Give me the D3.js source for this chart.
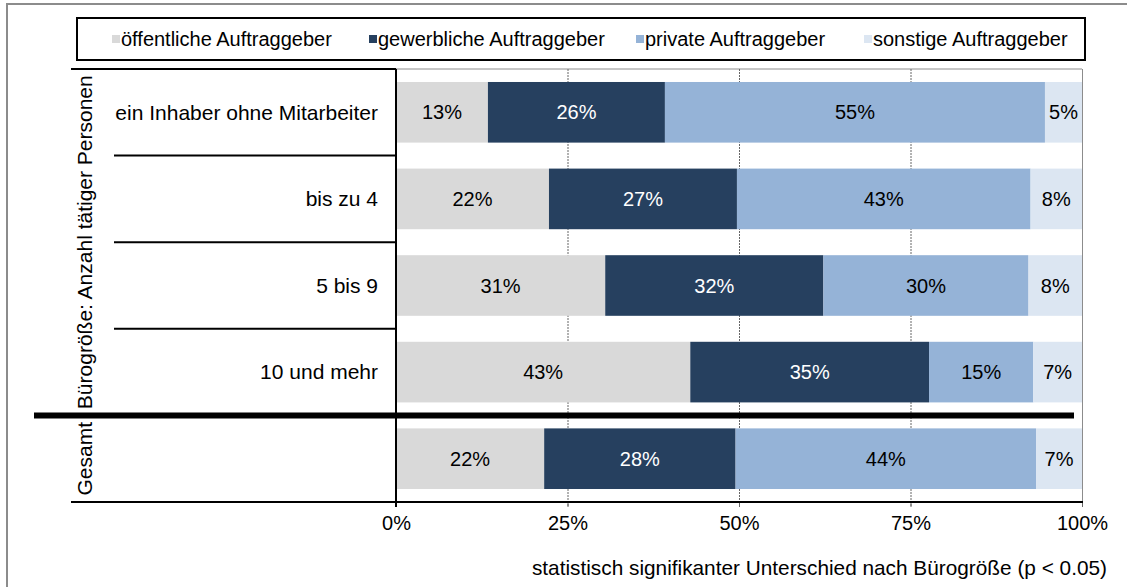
<!DOCTYPE html>
<html>
<head>
<meta charset="utf-8">
<script src="https://cdn.jsdelivr.net/npm/d3@7"></script>
<style>
  body { margin: 0; background: #fff; }
  text { font-family: Arial, "Liberation Sans", sans-serif; fill: #000; }
</style>
</head>
<body>
<svg id="chart" width="1127" height="587"></svg>
<script>
// data
var categories = ["ein Inhaber ohne Mitarbeiter", "bis zu 4", "5 bis 9", "10 und mehr", ""];
var groups = [
  { name: "Bürogröße: Anzahl tätiger Personen", from: 0, to: 4 },
  { name: "Gesamt", from: 4, to: 5 }
];
var seriesNames = ["öffentliche Auftraggeber", "gewerbliche Auftraggeber", "private Auftraggeber", "sonstige Auftraggeber"];
var oeffentlich = [13.4, 22.3, 30.5, 42.9, 21.6];
var gewerblich  = [25.8, 27.4, 31.8, 34.8, 27.9];
var privat      = [55.4, 42.8, 29.9, 15.2, 43.8];
var sonstige    = [5.4, 7.5, 7.8, 7.1, 6.7];
var xTicks = [0, 25, 50, 75, 100];
var note = "statistisch signifikanter Unterschied nach Bürogröße (p < 0.05)";

var colors = ["#d9d9d9", "#26405f", "#95b3d7", "#dce6f2"];
var labelColors = ["#000", "#fff", "#000", "#000"];

var svg = d3.select("#chart"),
    pLeft = 396, pRight = 1082, pTop = 69, pBottom = 502;

// outer frame
svg.append("rect")
    .attr("x", 7).attr("y", 4)
    .attr("width", 1300).attr("height", 800)
    .attr("fill", "none")
    .attr("stroke", "#8c8c8c")
    .attr("stroke-width", 2);

var rows = categories.map(function(c, i) {
  var vals = [oeffentlich[i], gewerblich[i], privat[i], sonstige[i]];
  var acc = 0;
  return vals.map(function(v, k) {
    var seg = { row: i, key: k, x0: acc, x1: acc + v, value: v };
    acc += v;
    return seg;
  });
});

var x = d3.scaleLinear().domain([0, 100]).range([pLeft, pRight]);
var y = d3.scaleBand()
    .domain(d3.range(categories.length))
    .range([pTop, pBottom])
    .paddingInner(0.3)
    .paddingOuter(0.15);
var step = y.step();

// plot border top + right, dashed grid
svg.append("line")
    .attr("x1", pLeft).attr("x2", pRight).attr("y1", pTop).attr("y2", pTop)
    .attr("stroke", "#8c8c8c").attr("stroke-width", 1);
svg.selectAll(".grid")
    .data(xTicks.filter(function(d) { return d > 0; }))
    .enter().append("line")
    .attr("class", "grid")
    .attr("x1", function(d) { return x(d) + 0.5; })
    .attr("x2", function(d) { return x(d) + 0.5; })
    .attr("y1", pTop).attr("y2", pBottom + 5)
    .attr("stroke", function(d) { return d === 100 ? "#8c8c8c" : "#666"; })
    .attr("stroke-width", 1)
    .attr("stroke-dasharray", function(d) { return d === 100 ? null : "2,1"; });

// bars
var rowG = svg.selectAll(".row")
    .data(rows)
    .enter().append("g")
    .attr("class", "row");

rowG.selectAll("rect")
    .data(function(d) { return d; })
    .enter().append("rect")
    .attr("x", function(d) { return x(d.x0); })
    .attr("width", function(d) { return x(d.x1) - x(d.x0); })
    .attr("y", function(d) { return y(d.row); })
    .attr("height", y.bandwidth())
    .attr("fill", function(d) { return colors[d.key]; });

rowG.selectAll("text")
    .data(function(d) { return d; })
    .enter().append("text")
    .attr("x", function(d) { return (x(d.x0) + x(d.x1)) / 2; })
    .attr("y", function(d) { return y(d.row) + y.bandwidth() / 2; })
    .attr("dy", "0.35em")
    .attr("text-anchor", "middle")
    .style("font-size", "20px")
    .style("fill", function(d) { return labelColors[d.key]; })
    .text(function(d) { return Math.round(d.value) + "%"; });

// x axis
var xAxis = d3.axisBottom(x)
    .tickValues(xTicks)
    .tickFormat(function(d) { return d + "%"; })
    .tickSize(5)
    .tickPadding(9);
var ax = svg.append("g")
    .attr("transform", "translate(0," + pBottom + ")")
    .call(xAxis);
ax.select(".domain").remove();
ax.selectAll(".tick line").attr("stroke", "#666");
ax.selectAll("text")
    .style("font-size", "20px")
    .style("font-family", "Arial, 'Liberation Sans', sans-serif")
    .attr("fill", "#000");
svg.append("line")
    .attr("x1", pLeft).attr("x2", pRight + 1).attr("y1", pBottom).attr("y2", pBottom)
    .attr("stroke", "#000").attr("stroke-width", 2);

// left table lines
svg.append("line")
    .attr("x1", 71).attr("x2", pLeft).attr("y1", pTop).attr("y2", pTop)
    .attr("stroke", "#000").attr("stroke-width", 2);
svg.append("line")
    .attr("x1", 71).attr("x2", pLeft).attr("y1", pBottom).attr("y2", pBottom)
    .attr("stroke", "#000").attr("stroke-width", 2);
svg.selectAll(".sep")
    .data([1, 2, 3])
    .enter().append("line")
    .attr("class", "sep")
    .attr("x1", 114).attr("x2", pLeft)
    .attr("y1", function(d) { return pTop + d * step; })
    .attr("y2", function(d) { return pTop + d * step; })
    .attr("stroke", "#000").attr("stroke-width", 2);
svg.append("line")
    .attr("x1", pLeft).attr("x2", pLeft).attr("y1", pTop).attr("y2", pBottom + 5)
    .attr("stroke", "#000").attr("stroke-width", 2);
svg.append("line")
    .attr("x1", 34).attr("x2", 1074)
    .attr("y1", pTop + 4 * step).attr("y2", pTop + 4 * step)
    .attr("stroke", "#000").attr("stroke-width", 6);

// category labels
svg.selectAll(".cat")
    .data(categories)
    .enter().append("text")
    .attr("class", "cat")
    .attr("x", 378)
    .attr("y", function(d, i) { return y(i) + y.bandwidth() / 2; })
    .attr("dy", "0.35em")
    .attr("text-anchor", "end")
    .style("font-size", "21px")
    .text(function(d) { return d; });

// group labels
svg.selectAll(".grp")
    .data(groups)
    .enter().append("text")
    .attr("class", "grp")
    .attr("transform", function(d) {
      var cy = pTop + (d.from + d.to) / 2 * step;
      return "translate(92," + cy + ") rotate(-90)";
    })
    .attr("text-anchor", "middle")
    .style("font-size", "21px")
    .text(function(d) { return d.name; });

// legend
svg.append("rect")
    .attr("x", 77).attr("y", 18)
    .attr("width", 1008).attr("height", 42)
    .attr("fill", "#fff")
    .attr("stroke", "#000").attr("stroke-width", 2);
var legendX = [112, 369, 636, 864];
var lg = svg.selectAll(".lg")
    .data(seriesNames)
    .enter().append("g")
    .attr("class", "lg")
    .attr("transform", function(d, i) { return "translate(" + legendX[i] + ",39)"; });
lg.append("rect")
    .attr("x", 0).attr("y", -4)
    .attr("width", 8).attr("height", 8)
    .attr("fill", function(d, i) { return colors[i]; });
lg.append("text")
    .attr("x", 9)
    .attr("dy", "0.35em")
    .style("font-size", "20px")
    .text(function(d) { return d; });

// note
svg.append("text")
    .attr("x", 1107).attr("y", 575)
    .attr("text-anchor", "end")
    .style("font-size", "20.8px")
    .text(note);
</script>
</body>
</html>
